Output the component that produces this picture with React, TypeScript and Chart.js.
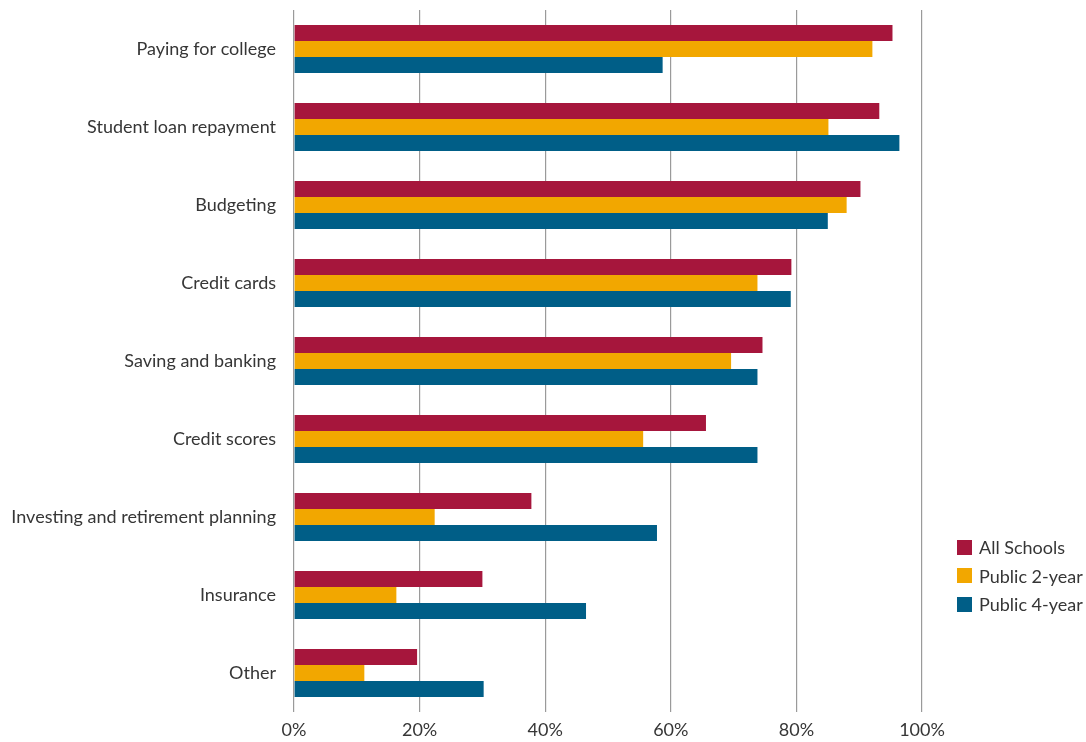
import React, { useEffect, useRef } from "react";
import { Chart, registerables } from "chart.js";

Chart.register(...registerables);

const categories = [
  "Paying for college",
  "Student loan repayment",
  "Budgeting",
  "Credit cards",
  "Saving and banking",
  "Credit scores",
  "Investing and retirement planning",
  "Insurance",
  "Other",
];
const allSchools = [95.3, 93.2, 90.2, 79.2, 74.6, 65.6, 37.8, 30.0, 19.6];
const public2Year = [92.1, 85.1, 88.0, 73.8, 69.6, 55.6, 22.4, 16.3, 11.2];
const public4Year = [58.7, 96.4, 85.0, 79.1, 73.8, 73.8, 57.8, 46.5, 30.2];
const seriesNames = ["All Schools", "Public 2-year", "Public 4-year"];
const seriesColors = ["#A6163C", "#F2A700", "#005E87"];
const xTicks = [0, 20, 40, 60, 80, 100];

const FONT = "Lato, 'Open Sans', sans-serif";
const TEXT = "#363636";

export default function App() {
  const ref = useRef<HTMLCanvasElement | null>(null);

  useEffect(() => {
    document.body.style.margin = "0";
    if (!ref.current) return;
    const chart = new Chart(ref.current, {
      type: "bar",
      data: {
        labels: categories,
        datasets: [allSchools, public2Year, public4Year].map((d, i) => ({
          label: seriesNames[i],
          data: d,
          backgroundColor: seriesColors[i],
          borderWidth: 0,
          categoryPercentage: 0.615,
          barPercentage: 1,
        })),
      },
      options: {
        indexAxis: "y",
        animation: false,
        responsive: false,
        maintainAspectRatio: false,
        layout: { padding: { top: 10, right: 164, bottom: 0, left: 0 } },
        plugins: {
          legend: { display: false },
          tooltip: { enabled: false },
        },
        scales: {
          x: {
            min: 0,
            max: 100,
            afterBuildTicks: (axis: any) => {
              axis.ticks = xTicks.map((v) => ({ value: v }));
            },
            afterFit: (s: any) => {
              s.height = 30;
              s.paddingLeft = 0;
              s.paddingRight = 0;
            },
            grid: { color: "#9a9a9a", lineWidth: 1.2, tickLength: 0, drawTicks: false },
            border: { display: false },
            ticks: {
              padding: 7,
              color: TEXT,
              font: { family: FONT, size: 18 },
              callback: (v: any) => v + "%",
            },
          },
          y: {
            afterFit: (s: any) => {
              s.width = 294;
              s.paddingTop = 0;
              s.paddingBottom = 0;
            },
            grid: { display: false, drawTicks: false, tickLength: 0 },
            border: { display: false },
            ticks: {
              padding: 18,
              color: TEXT,
              font: { family: FONT, size: 18 },
            },
          },
        },
      },
    });
    return () => chart.destroy();
  }, []);

  return (
    <div style={{ position: "relative", width: 1086, height: 742 }}>
      <canvas ref={ref} width={1086} height={742} style={{ display: "block" }} />
      <div
        style={{
          position: "absolute",
          left: 957,
          top: 533,
          fontFamily: FONT,
          fontSize: 18,
          color: TEXT,
          lineHeight: "28.5px",
        }}
      >
        {seriesNames.map((n, i) => (
          <div key={n} style={{ display: "flex", alignItems: "center", whiteSpace: "nowrap" }}>
            <span
              style={{
                display: "inline-block",
                width: 15,
                height: 15,
                background: seriesColors[i],
                marginRight: 7,
              }}
            />
            {n}
          </div>
        ))}
      </div>
    </div>
  );
}
